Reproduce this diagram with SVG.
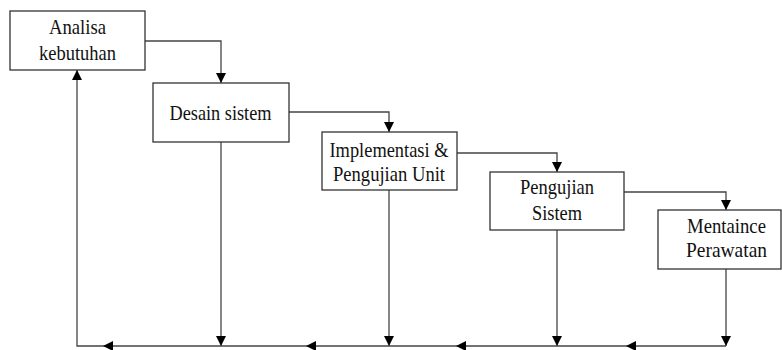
<svg xmlns="http://www.w3.org/2000/svg" width="782" height="350" viewBox="0 0 782 350">
  <style>
    .box { fill: #ffffff; stroke: #333333; stroke-width: 1.3; }
    .lbl { font-family: 'Liberation Serif', 'Times New Roman', serif; font-size: 21.5px; fill: #111111; text-anchor: middle; }
    .wire { fill: none; stroke: #444444; stroke-width: 1.3; marker-end: url(#head); }
  </style>
  <defs>
    <marker id="head" markerUnits="userSpaceOnUse" markerWidth="11" markerHeight="10" refX="10" refY="5" orient="auto">
      <path d="M0,0 L10,5 L0,10 Z" fill="#000000"/>
    </marker>
  </defs>

  <rect width="782" height="350" fill="#ffffff"/>

  <!-- flow connectors -->
  <g id="connectors">
    <path class="wire" d="M145,41 H221 V83"/>
    <path class="wire" d="M289,112 H389 V132"/>
    <path class="wire" d="M457,153 H557 V172"/>
    <path class="wire" d="M624,192 H726 V210"/>

    <!-- feedback drops to the return line -->
    <path class="wire" d="M221,142 V346"/>
    <path class="wire" d="M389,190 V346"/>
    <path class="wire" d="M557,230 V346"/>
    <path class="wire" d="M726,269 V346"/>

    <!-- return line back to the first stage -->
    <path class="wire" d="M726,346 H626"/>
    <path class="wire" d="M626,346 H456"/>
    <path class="wire" d="M456,346 H306"/>
    <path class="wire" d="M306,346 H103"/>
    <path class="wire" d="M103,346 H77 V70"/>
  </g>

  <g id="analisa">
    <rect class="box" x="10" y="11" width="135" height="59"/>
    <text class="lbl" x="77.5" y="34" textLength="57" lengthAdjust="spacingAndGlyphs">Analisa</text>
    <text class="lbl" x="77.5" y="60" textLength="77" lengthAdjust="spacingAndGlyphs">kebutuhan</text>
  </g>

  <g id="desain">
    <rect class="box" x="153" y="83" width="136" height="59"/>
    <text class="lbl" x="220.5" y="120" textLength="102" lengthAdjust="spacingAndGlyphs">Desain sistem</text>
  </g>

  <g id="implementasi">
    <rect class="box" x="322" y="132" width="135" height="58"/>
    <text class="lbl" x="389" y="157" textLength="119" lengthAdjust="spacingAndGlyphs">Implementasi &amp;</text>
    <text class="lbl" x="389" y="181" textLength="112" lengthAdjust="spacingAndGlyphs">Pengujian Unit</text>
  </g>

  <g id="pengujian">
    <rect class="box" x="490" y="172" width="134" height="58"/>
    <text class="lbl" x="557" y="194" textLength="74" lengthAdjust="spacingAndGlyphs">Pengujian</text>
    <text class="lbl" x="557" y="220" textLength="50" lengthAdjust="spacingAndGlyphs">Sistem</text>
  </g>

  <g id="perawatan">
    <rect class="box" x="658" y="210" width="123" height="59"/>
    <text class="lbl" x="726.5" y="233" textLength="79" lengthAdjust="spacingAndGlyphs">Mentaince</text>
    <text class="lbl" x="726.5" y="257" textLength="81" lengthAdjust="spacingAndGlyphs">Perawatan</text>
  </g>
</svg>
